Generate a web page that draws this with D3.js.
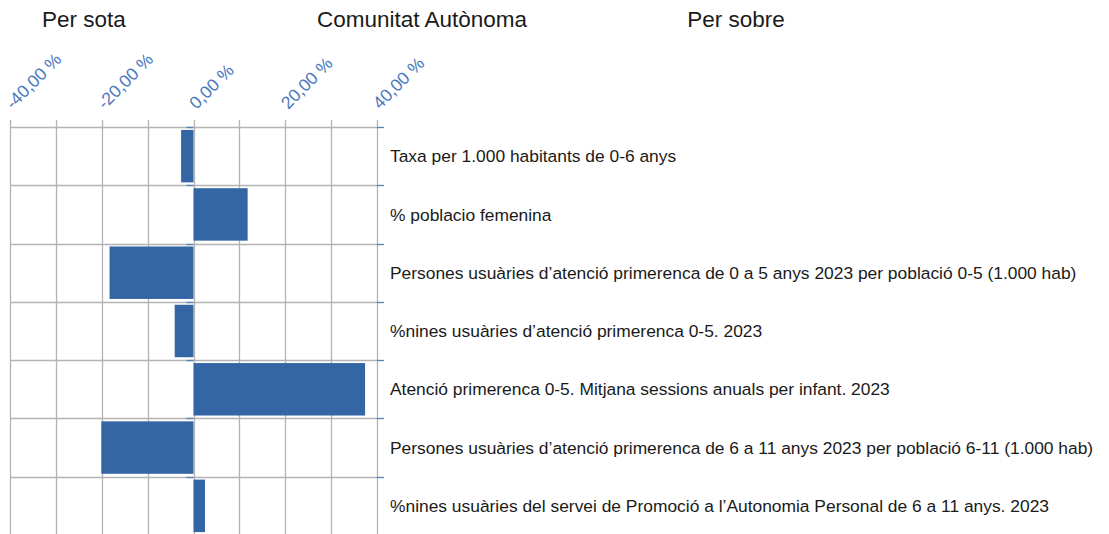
<!DOCTYPE html>
<html>
<head>
<meta charset="utf-8">
<script src="https://cdn.jsdelivr.net/npm/d3@7"></script>
<style>
  body { margin: 0; background: #fff; }
  svg { display: block; font-family: "Liberation Sans", Arial, sans-serif; }
</style>
</head>
<body>
<svg id="chart" width="1109" height="534"></svg>
<script>
// categories (top to bottom) and deviation from the regional value, in %
const categories = [
  "Taxa per 1.000 habitants de 0-6 anys",
  "% poblacio femenina",
  "Persones usuàries d\u2019atenció primerenca de 0 a 5 anys 2023 per població 0-5 (1.000 hab)",
  "%nines usuàries d\u2019atenció primerenca 0-5. 2023",
  "Atenció primerenca 0-5. Mitjana sessions anuals per infant. 2023",
  "Persones usuàries d\u2019atenció primerenca de 6 a 11 anys 2023 per població 6-11 (1.000 hab)",
  "%nines usuàries del servei de Promoció a l\u2019Autonomia Personal de 6 a 11 anys. 2023"
];
const values = [-2.7, 11.8, -18.3, -4.1, 37.4, -20.1, 2.5];
const majorTicks = [-40, -20, 0, 20, 40];
const minorTicks = [-30, -10, 10, 30];
const headers = ["Per sota", "Comunitat Autònoma", "Per sobre"];

const svg = d3.select("#chart");
const plot = { top: 127, bottom: 535, left: 10, right: 377 };

const x = d3.scaleLinear([-40, 40], [plot.left, plot.right]);
const y = d3.scaleBand(categories, [plot.top, plot.bottom]).paddingInner(0.1).paddingOuter(0.05);
const fmt = d => d3.format(".2f")(d).replace(".", ",").replace("\u2212", "-") + " %";

// headers
svg.selectAll("text.head")
  .data(headers)
  .enter()
  .append("text")
  .attr("class", "head")
  .attr("x", (d, i) => [84, 422, 736][i])
  .attr("y", 27)
  .attr("text-anchor", "middle")
  .attr("font-size", 22.5)
  .attr("fill", "#1a1a1a")
  .text(d => d);

// vertical grid (major + minor), with little ticks above the axis
const grid = svg.append("g");
grid.selectAll("line.v")
  .data(majorTicks.concat(minorTicks))
  .enter()
  .append("line")
  .attr("x1", d => Math.round(x(d)) + 0.5)
  .attr("x2", d => Math.round(x(d)) + 0.5)
  .attr("y1", plot.top - 7)
  .attr("y2", plot.bottom)
  .attr("stroke", "#b3b3b3")
  .attr("stroke-width", 1.3);

// horizontal grid at category boundaries
const bounds = categories.map(c => y(c) - y.step() * y.paddingInner() / 2);
grid.selectAll("line.h")
  .data(bounds)
  .enter()
  .append("line")
  .attr("x1", plot.left)
  .attr("x2", plot.right)
  .attr("y1", d => Math.round(d) + 0.5)
  .attr("y2", d => Math.round(d) + 0.5)
  .attr("stroke", "#b3b3b3")
  .attr("stroke-width", 1.3);

// bars
svg.append("g")
  .selectAll("rect")
  .data(values)
  .enter()
  .append("rect")
  .attr("x", d => x(Math.min(0, d)))
  .attr("width", d => Math.abs(x(d) - x(0)))
  .attr("y", (d, i) => y(categories[i]))
  .attr("height", y.bandwidth())
  .attr("fill", "#3465a4");

// blue category ticks at zero and on the right edge
const ticks = svg.append("g").attr("stroke", "#5580c0").attr("stroke-width", 1.3);
bounds.forEach(b => {
  ticks.append("line").attr("x1", x(0) - 7).attr("x2", x(0))
    .attr("y1", Math.round(b) + 0.5).attr("y2", Math.round(b) + 0.5);
  ticks.append("line").attr("x1", plot.right).attr("x2", plot.right + 7)
    .attr("y1", Math.round(b) + 0.5).attr("y2", Math.round(b) + 0.5);
});

// rotated value labels
svg.append("g")
  .selectAll("text")
  .data(majorTicks)
  .enter()
  .append("text")
  .attr("transform", d => `translate(${x(d) + 3},110) rotate(-45)`)
  .attr("font-size", 17.5)
  .attr("fill", "#4a78bd")
  .text(d => fmt(d));

// category labels
svg.append("g")
  .selectAll("text")
  .data(categories)
  .enter()
  .append("text")
  .attr("x", 390)
  .attr("y", d => y(d) + y.bandwidth() / 2)
  .attr("dy", "0.35em")
  .attr("font-size", 17.4)
  .attr("fill", "#1a1a1a")
  .text(d => d);
</script>
</body>
</html>
